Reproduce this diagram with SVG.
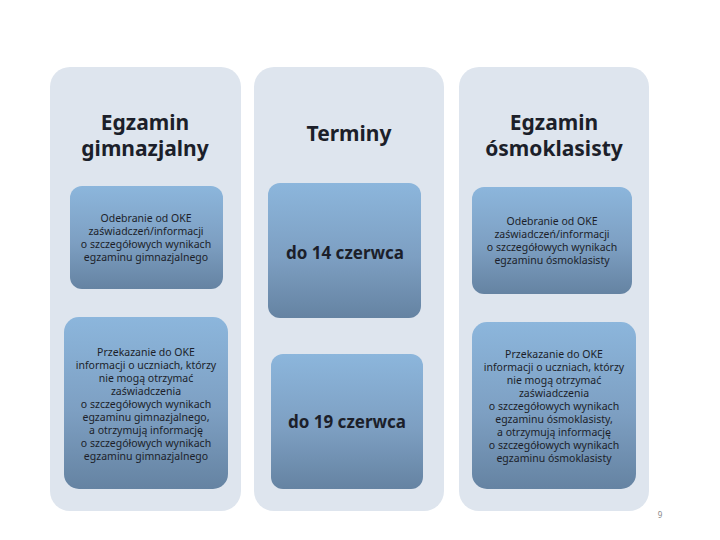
<svg xmlns="http://www.w3.org/2000/svg" width="720" height="540" viewBox="0 0 720 540">
<defs>
<linearGradient id="g" x1="0" y1="0" x2="0" y2="1"><stop offset="0" stop-color="#8cb6dc"/><stop offset="0.55" stop-color="#7d9fc2"/><stop offset="1" stop-color="#6583a2"/></linearGradient>
<style>
.panel{fill:#dee5ee}
.box{fill:url(#g)}
.t{font-family:"Noto Sans","DejaVu Sans",sans-serif;fill:#1c1f2a;text-anchor:middle}
.h{font-size:21px;font-weight:bold}
.s{font-size:10.5px}
.d{font-size:17px;font-weight:bold}
</style>
</defs>
<rect width="720" height="540" fill="#fff"/>
<g id="col1">
<rect class="panel" x="50" y="67" width="191" height="444" rx="20"/>
<text class="t h" x="145" y="130">Egzamin</text>
<text class="t h" x="145" y="156">gimnazjalny</text>
</g>
<g id="col2">
<rect class="panel" x="254" y="67" width="190" height="444" rx="20"/>
<text class="t h" x="349" y="141">Terminy</text>
</g>
<g id="col3">
<rect class="panel" x="459" y="67" width="190" height="444" rx="20"/>
<text class="t h" x="554" y="130">Egzamin</text>
<text class="t h" x="554" y="156">ósmoklasisty</text>
</g>
<g id="b1">
<rect class="box" x="70" y="186" width="153" height="103" rx="12"/>
<text class="t s"><tspan x="146" y="222">Odebranie od OKE</tspan><tspan x="146" y="235">zaświadczeń/informacji</tspan><tspan x="146" y="248">o szczegółowych wynikach</tspan><tspan x="146" y="261">egzaminu gimnazjalnego</tspan></text>
</g>
<g id="b2">
<rect class="box" x="268" y="183" width="153" height="135" rx="12"/>
<text class="t d" x="345" y="259">do 14 czerwca</text>
</g>
<g id="b3">
<rect class="box" x="472" y="187" width="160" height="107" rx="12"/>
<text class="t s"><tspan x="552" y="225">Odebranie od OKE</tspan><tspan x="552" y="238">zaświadczeń/informacji</tspan><tspan x="552" y="251">o szczegółowych wynikach</tspan><tspan x="552" y="264">egzaminu ósmoklasisty</tspan></text>
</g>
<g id="b4">
<rect class="box" x="64" y="317" width="164" height="172" rx="15"/>
<text class="t s"><tspan x="146" y="356">Przekazanie do OKE</tspan><tspan x="146" y="369">informacji o uczniach, którzy</tspan><tspan x="146" y="382">nie mogą otrzymać</tspan><tspan x="146" y="395">zaświadczenia</tspan><tspan x="146" y="408">o szczegółowych wynikach</tspan><tspan x="146" y="421">egzaminu gimnazjalnego,</tspan><tspan x="146" y="434">a otrzymują informację</tspan><tspan x="146" y="447">o szczegółowych wynikach</tspan><tspan x="146" y="460">egzaminu gimnazjalnego</tspan></text>
</g>
<g id="b5">
<rect class="box" x="271" y="354" width="152" height="135" rx="12"/>
<text class="t d" x="347" y="428">do 19 czerwca</text>
</g>
<g id="b6">
<rect class="box" x="472" y="322" width="164" height="167" rx="15"/>
<text class="t s"><tspan x="554" y="358">Przekazanie do OKE</tspan><tspan x="554" y="371">informacji o uczniach, którzy</tspan><tspan x="554" y="384">nie mogą otrzymać</tspan><tspan x="554" y="397">zaświadczenia</tspan><tspan x="554" y="410">o szczegółowych wynikach</tspan><tspan x="554" y="423">egzaminu ósmoklasisty,</tspan><tspan x="554" y="436">a otrzymują informację</tspan><tspan x="554" y="449">o szczegółowych wynikach</tspan><tspan x="554" y="462">egzaminu ósmoklasisty</tspan></text>
</g>
<g id="connectors"/>
<text x="660" y="518" font-family="Noto Sans, sans-serif" font-size="8" fill="#888" text-anchor="middle">9</text>
</svg>
